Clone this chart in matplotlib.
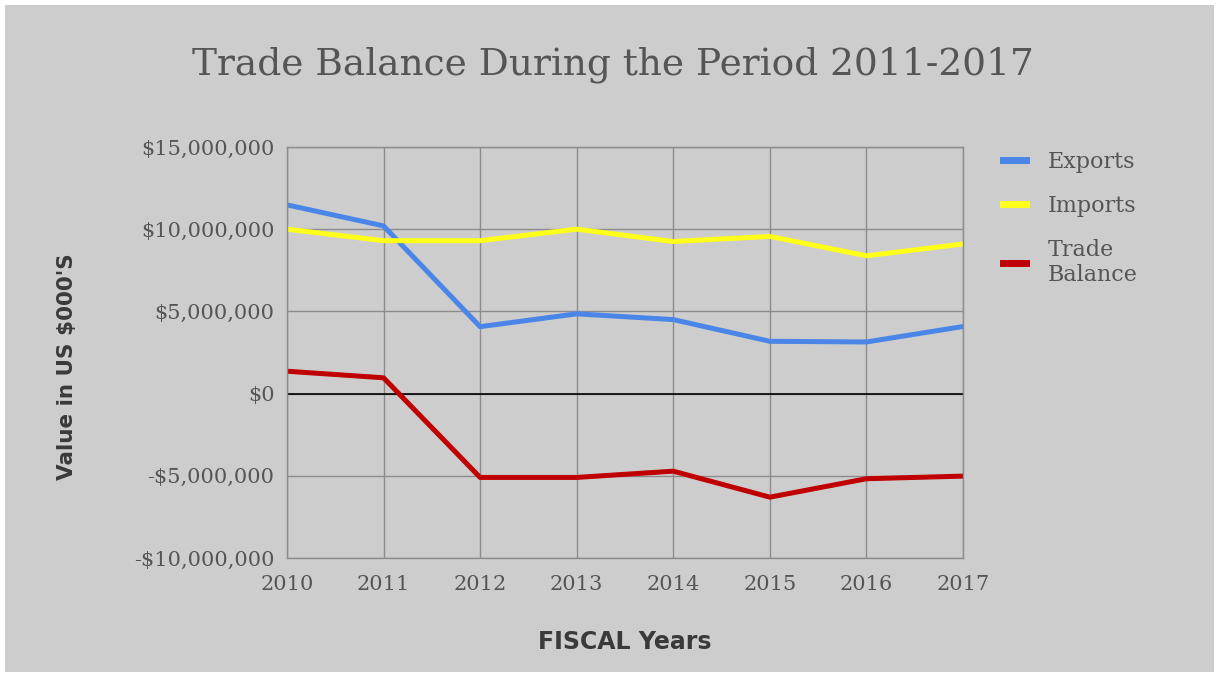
import matplotlib.pyplot as plt
from matplotlib.ticker import FuncFormatter

# Values in US $000's
years = [2010, 2011, 2012, 2013, 2014, 2015, 2016, 2017]
exports = [11480000, 10200000, 4070000, 4850000, 4500000, 3180000, 3140000, 4080000]
imports = [10000000, 9300000, 9300000, 10000000, 9250000, 9560000, 8380000, 9100000]
trade_balance = [1360000, 960000, -5100000, -5100000, -4720000, -6300000, -5180000, -5020000]

bg = '#cdcdcd'
txt = '#555555'

fig = plt.figure(figsize=(12.19, 6.77), dpi=100, facecolor=bg,
                 edgecolor='white', linewidth=6)
ax = fig.add_axes([0.2354, 0.1758, 0.5546, 0.6071])
ax.set_facecolor(bg)

ax.plot(years, exports, color='#4a86e8', lw=3.6, label='Exports')
ax.plot(years, imports, color='#ffff1a', lw=3.6, label='Imports')
ax.plot(years, trade_balance, color='#c00000', lw=3.6, label='Trade\nBalance')
ax.axhline(0, color='black', lw=1.2, zorder=1)

ax.set_xlim(2010, 2017)
ax.set_ylim(-10000000, 15000000)
ax.set_xticks(years)
ax.set_yticks([-10000000, -5000000, 0, 5000000, 10000000, 15000000])


def money(v, pos):
    if v < 0:
        return '-${:,.0f}'.format(-v)
    return '${:,.0f}'.format(v)


ax.yaxis.set_major_formatter(FuncFormatter(money))
ax.grid(True, color='#8c8c8c', lw=1)
ax.set_axisbelow(True)
for s in ax.spines.values():
    s.set_color('#8c8c8c')
    s.set_linewidth(1)
ax.tick_params(length=0, labelsize=15, labelcolor=txt)
ax.tick_params(axis='y', pad=9)
ax.tick_params(axis='x', pad=12)
for lab in ax.get_xticklabels() + ax.get_yticklabels():
    lab.set_family('DejaVu Serif')

fig.text(0.503, 0.905, 'Trade Balance During the Period 2011-2017', ha='center', va='center',
         fontsize=27, color=txt, family='DejaVu Serif')
ax.set_xlabel('FISCAL Years', fontsize=17, fontweight='heavy', color='#3a3a3a')
ax.xaxis.set_label_coords(0.5, -0.175)
ax.set_ylabel("Value in US $000'S", fontsize=15.5, fontweight='heavy', color='#3a3a3a')
ax.yaxis.set_label_coords(-0.31, 0.465)

leg = ax.legend(loc='upper left', bbox_to_anchor=(1.03, 1.04), frameon=False,
                prop={'family': 'DejaVu Serif', 'size': 16}, handlelength=1.0,
                handletextpad=1.0, labelspacing=1.0, labelcolor=txt)
for h in leg.get_lines():
    h.set_linewidth(5)

fig.savefig('out.png', dpi=100, facecolor=bg, edgecolor='white')
